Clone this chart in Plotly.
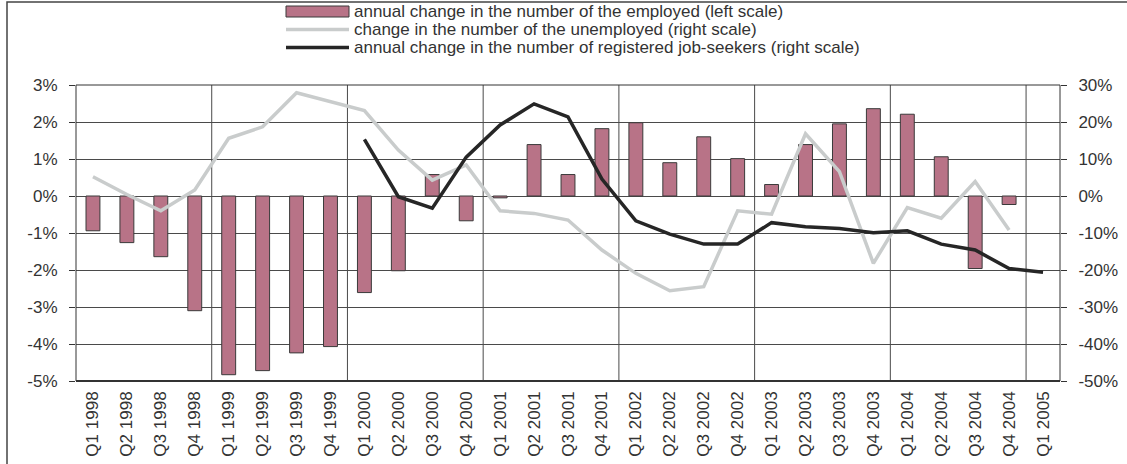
import plotly.graph_objects as go

# ---------------- data ----------------
quarters = [
    "Q1 1998", "Q2 1998", "Q3 1998", "Q4 1998",
    "Q1 1999", "Q2 1999", "Q3 1999", "Q4 1999",
    "Q1 2000", "Q2 2000", "Q3 2000", "Q4 2000",
    "Q1 2001", "Q2 2001", "Q3 2001", "Q4 2001",
    "Q1 2002", "Q2 2002", "Q3 2002", "Q4 2002",
    "Q1 2003", "Q2 2003", "Q3 2003", "Q4 2003",
    "Q1 2004", "Q2 2004", "Q3 2004", "Q4 2004",
    "Q1 2005",
]

employed_change = [
    -0.94, -1.26, -1.64, -3.10,
    -4.83, -4.72, -4.24, -4.07,
    -2.61, -2.02, 0.58, -0.67,
    -0.05, 1.39, 0.58, 1.82,
    1.98, 0.90, 1.60, 1.01,
    0.31, 1.39, 1.95, 2.36,
    2.21, 1.06, -1.96, -0.23,
    None,
]

unemployed_change = [
    5.2, 0.4, -4.0, 1.6,
    15.6, 18.7, 27.9, 25.5,
    23.1, 12.4, 4.3, 8.4,
    -4.0, -4.7, -6.5, -14.6,
    -20.9, -25.6, -24.5, -4.0,
    -4.9, 16.8, 6.6, -18.2,
    -3.1, -6.0, 3.9, -9.2,
    None,
]

jobseekers_change = [
    None, None, None, None,
    None, None, None, None,
    15.3, -0.2, -3.3, 10.5,
    19.2, 24.9, 21.4, 4.6,
    -6.7, -10.3, -13.0, -13.0,
    -7.2, -8.3, -8.8, -9.9,
    -9.4, -13.0, -14.6, -19.6,
    -20.6,
]

left_tick_vals = [-5, -4, -3, -2, -1, 0, 1, 2, 3]
left_tick_text = ["-5%", "-4%", "-3%", "-2%", "-1%", "0%", "1%", "2%", "3%"]
right_tick_vals = [-50, -40, -30, -20, -10, 0, 10, 20, 30]
right_tick_text = ["-50%", "-40%", "-30%", "-20%", "-10%", "0%", "10%", "20%", "30%"]

legend_labels = [
    "annual change in the number of the employed (left scale)",
    "change in the number of the unemployed (right scale)",
    "annual change in the number of registered job-seekers (right scale)",
]

# ---------------- style ----------------
W, H = 1127, 464
ML, MR, MT, MB = 76, 67, 85, 83
PW, PH = W - ML - MR, H - MT - MB

BAR_COLOR = "#b87387"
GRAY_LINE = "#c9cccc"
BLACK_LINE = "#262626"
GRID = "#4a4a4a"
TEXT = "#333333"
FONT = "Liberation Sans, Arial, sans-serif"


def px_x(px):
    return (px - ML) / PW


def px_y(py):
    return (H - MB - py) / PH


fig = go.Figure()

fig.add_trace(go.Bar(
    x=quarters, y=employed_change, name=legend_labels[0],
    marker=dict(color=BAR_COLOR, line=dict(color="#3a3a3a", width=1)),
    width=0.41, yaxis="y", showlegend=False,
))
fig.add_trace(go.Scatter(
    x=quarters, y=unemployed_change, name=legend_labels[1],
    mode="lines", line=dict(color=GRAY_LINE, width=3.5),
    yaxis="y2", showlegend=False, connectgaps=False,
))
fig.add_trace(go.Scatter(
    x=quarters, y=jobseekers_change, name=legend_labels[2],
    mode="lines", line=dict(color=BLACK_LINE, width=3.5),
    yaxis="y2", showlegend=False, connectgaps=False,
))

shapes = []
# vertical year separators (boundaries before each Q1)
for i, q in enumerate(quarters):
    if q.startswith("Q1") and i > 0:
        shapes.append(dict(type="line", xref="x", yref="paper",
                           x0=i - 0.5, x1=i - 0.5, y0=0, y1=1,
                           line=dict(color=GRID, width=1), layer="below"))
# plot frame
shapes.append(dict(type="rect", xref="paper", yref="paper", x0=0, x1=1, y0=0, y1=1,
                   line=dict(color="#333333", width=1), layer="above"))
# bottom axis line (thicker)
shapes.append(dict(type="line", xref="paper", yref="paper", x0=0, x1=1, y0=0, y1=0,
                   line=dict(color="#333333", width=2), layer="above"))
# outer figure border
shapes.append(dict(type="rect", xref="paper", yref="paper",
                   x0=px_x(7), x1=px_x(1140), y0=px_y(480), y1=px_y(2),
                   line=dict(color="#444444", width=1.5), layer="above"))

# manual legend
sw_x0, sw_x1, txt_x = 286, 349, 352
rows = [11.5, 29.5, 47.5]
shapes.append(dict(type="rect", xref="paper", yref="paper",
                   x0=px_x(sw_x0), x1=px_x(sw_x1), y0=px_y(rows[0] + 5.5), y1=px_y(rows[0] - 5.5),
                   fillcolor=BAR_COLOR, line=dict(color="#3a3a3a", width=1)))
shapes.append(dict(type="line", xref="paper", yref="paper",
                   x0=px_x(sw_x0), x1=px_x(sw_x1), y0=px_y(rows[1]), y1=px_y(rows[1]),
                   line=dict(color=GRAY_LINE, width=3.5)))
shapes.append(dict(type="line", xref="paper", yref="paper",
                   x0=px_x(sw_x0), x1=px_x(sw_x1), y0=px_y(rows[2]), y1=px_y(rows[2]),
                   line=dict(color=BLACK_LINE, width=3.5)))

annotations = []
for label, r in zip(legend_labels, rows):
    annotations.append(dict(text=label, xref="paper", yref="paper",
                            x=px_x(txt_x), y=px_y(r), xanchor="left", yanchor="middle",
                            showarrow=False, font=dict(family=FONT, size=17, color=TEXT)))

fig.update_layout(
    width=W, height=H,
    margin=dict(l=ML, r=MR, t=MT, b=MB, autoexpand=False),
    paper_bgcolor="white", plot_bgcolor="white",
    font=dict(family=FONT, size=17, color=TEXT),
    bargap=0.59,
    shapes=shapes, annotations=annotations,
    xaxis=dict(type="category", showgrid=False, tickangle=-90, ticks="",
               showline=False, automargin=False, ticklabelstandoff=6,
               tickfont=dict(family=FONT, size=17, color=TEXT)),
    yaxis=dict(range=[-5, 3], tickvals=left_tick_vals, ticktext=left_tick_text,
               showgrid=True, gridcolor=GRID, gridwidth=1, zeroline=False,
               ticks="outside", ticklen=6, tickcolor="#333333", showline=False,
               automargin=False, ticklabelstandoff=8,
               tickfont=dict(family=FONT, size=17, color=TEXT)),
    yaxis2=dict(range=[-50, 30], tickvals=right_tick_vals, ticktext=right_tick_text,
                overlaying="y", side="right", showgrid=False, zeroline=False,
                ticks="outside", ticklen=6, tickcolor="#333333", showline=False,
                automargin=False, ticklabelstandoff=8,
                tickfont=dict(family=FONT, size=17, color=TEXT)),
)

fig.write_html(
    "out.html",
    config={"displayModeBar": False},
    post_script="document.body.style.margin='0';document.body.style.padding='0';",
)
